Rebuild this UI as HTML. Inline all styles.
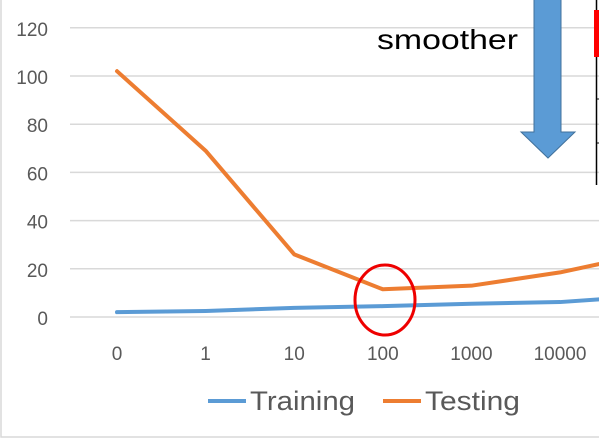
<!DOCTYPE html>
<html><head><meta charset="utf-8"><style>
html,body{margin:0;padding:0;background:#fff;}
svg{display:block;font-family:"Liberation Sans",sans-serif;}
</style></head><body>
<svg width="599" height="440" viewBox="0 0 599 440">
<rect x="1" y="-2" width="620" height="439" fill="#fff" stroke="#d9d9d9" stroke-width="1.5"/>
<g id="grid"></g>
<g id="ylabels"></g>
<g id="xlabels"></g>
<g id="series"></g>
<ellipse cx="385" cy="300" rx="30" ry="35" fill="none" stroke="#e00" stroke-width="3"/>
<text x="377" y="49" font-size="28" textLength="141" lengthAdjust="spacingAndGlyphs" fill="#000">smoother</text>
<polygon points="534,-2 561,-2 561,132 575,132 548,158 521,132 534,132" fill="#5b9bd5" stroke="#41719c" stroke-width="1"/>
<line x1="596.5" y1="0" x2="596.5" y2="185" stroke="#000" stroke-width="1.5"/>
<line x1="596" y1="99" x2="599" y2="99" stroke="#000"/>
<line x1="596" y1="143" x2="599" y2="143" stroke="#000"/>
<rect x="594" y="10" width="5" height="47" fill="#f00"/>
<g>
<line x1="208" y1="401" x2="246" y2="401" stroke="#5b9bd5" stroke-width="4"/>
<text x="250" y="410" font-size="27" textLength="105" lengthAdjust="spacingAndGlyphs" fill="#595959">Training</text>
<line x1="383" y1="401" x2="421" y2="401" stroke="#ed7d31" stroke-width="4"/>
<text x="425" y="410" font-size="27" textLength="95" lengthAdjust="spacingAndGlyphs" fill="#595959">Testing</text>
</g>
</svg>
<script>
const categories=["0","1","10","100","1000","10000","100000"];
const training=[2,2.5,3.8,4.5,5.5,6.2,8.7];
const testing=[102,69,26,11.5,13,18.5,26.4];
const yTicks=[0,20,40,60,80,100,120];
const NS="http://www.w3.org/2000/svg";
function x(i){return 117+i*88.6;}
function y(v){return 317-v*2.41;}
function mk(tag,attrs,parent){const e=document.createElementNS(NS,tag);for(const k in attrs)e.setAttribute(k,attrs[k]);document.getElementById(parent).appendChild(e);return e;}
yTicks.forEach(t=>{
 const g=mk('line',{x1:70,x2:599,y1:y(t),y2:y(t),stroke:'#d9d9d9','stroke-width':1.5},'grid');
 
 
 const l=mk('text',{x:48,y:y(t)+8,'font-size':19,fill:'#595959','text-anchor':'end'},'ylabels');
 l.textContent=t;
 
 
});
categories.forEach((c,i)=>{
 const l=mk('text',{x:x(i),y:360,'font-size':19,fill:'#595959','text-anchor':'middle'},'xlabels');
 l.textContent=c;
 
 
});
function line(vals,color,name){
 const p=mk('polyline',{points:vals.map((v,i)=>x(i)+','+y(v)).join(' '),fill:'none',stroke:color,'stroke-width':4,'stroke-linejoin':'round','stroke-linecap':'round'},'series');
 
 
}
line(training,'#5b9bd5','training-line');
line(testing,'#ed7d31','testing-line');
</script>
</body></html>
